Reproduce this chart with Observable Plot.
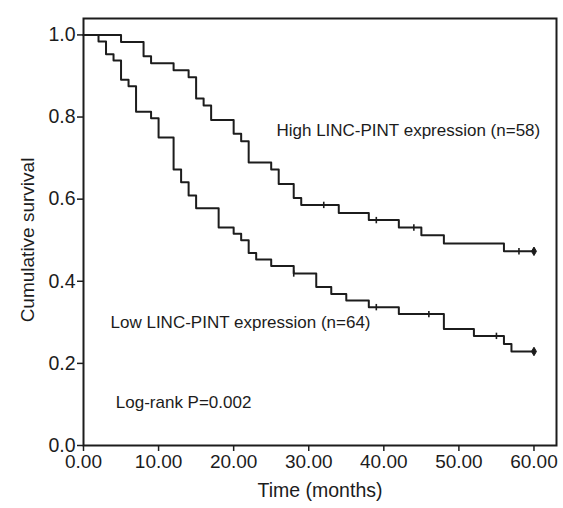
<!DOCTYPE html>
<html>
<head>
<meta charset="utf-8">
<script src="https://cdn.jsdelivr.net/npm/d3@7"></script>
<script src="https://cdn.jsdelivr.net/npm/@observablehq/plot@0.6"></script>
<style>
  html, body { margin: 0; padding: 0; background: #fff; }
  #chart svg { display: block; }
</style>
</head>
<body>
<div id="chart"></div>
<script>
// ---- data ----
const highTime = [0, 5, 8, 9, 12, 14, 15, 16, 17, 20, 21, 22, 25, 26, 28, 29, 34, 38, 42, 45, 48, 56, 60];
const highSurv = [1.0, 0.983, 0.948, 0.931, 0.914, 0.897, 0.845, 0.828, 0.793, 0.759, 0.741, 0.689, 0.672, 0.637, 0.603, 0.586, 0.566, 0.549, 0.531, 0.512, 0.492, 0.473, 0.473];
const highCensorTime = [32, 39, 44, 58];
const highCensorSurv = [0.586, 0.549, 0.531, 0.473];

const lowTime = [0, 2, 3, 4, 5, 6, 7, 9, 10, 12, 13, 14, 15, 18, 20, 21, 22, 23, 25, 28, 31, 33, 35, 38, 42, 48, 52, 56, 57, 60];
const lowSurv = [1.0, 0.984, 0.953, 0.938, 0.891, 0.875, 0.813, 0.797, 0.750, 0.672, 0.641, 0.609, 0.578, 0.531, 0.516, 0.500, 0.469, 0.453, 0.437, 0.419, 0.386, 0.369, 0.353, 0.337, 0.320, 0.284, 0.267, 0.247, 0.229, 0.229];
const lowCensorTime = [28, 39, 46, 55];
const lowCensorSurv = [0.419, 0.337, 0.320, 0.267];

const endTime = [60, 60];
const endSurv = [0.473, 0.229];

const xTicks = [0, 10, 20, 30, 40, 50, 60];
const yTicks = [0, 0.2, 0.4, 0.6, 0.8, 1.0];

const highLabel = "High LINC-PINT expression (n=58)";
const lowLabel = "Low LINC-PINT expression (n=64)";
const pLabel = "Log-rank P=0.002";
const xTitle = "Time (months)";
const yTitle = "Cumulative survival";

// ---- tables built from the arrays ----
const high = highTime.map((t, i) => ({t, s: highSurv[i]}));
const low = lowTime.map((t, i) => ({t, s: lowSurv[i]}));
const censors = highCensorTime.map((t, i) => ({t, s: highCensorSurv[i]}))
  .concat(lowCensorTime.map((t, i) => ({t, s: lowCensorSurv[i]})));
const ends = endTime.map((t, i) => ({t, s: endSurv[i]}));

// vertical censor tick symbol (half-length = r)
const vbar = { draw(context, size) { const r = Math.sqrt(size / Math.PI); context.moveTo(0, -r); context.lineTo(0, r); } };

const ink = "#1c1c1c";
const font = "'Liberation Sans', Arial, Helvetica, sans-serif";

const chart = Plot.plot({
  width: 563,
  height: 508,
  marginLeft: 83,
  marginRight: 7,
  marginTop: 18,
  marginBottom: 63,
  style: { fontFamily: font, fontSize: "18px", color: ink, background: "#fff" },
  x: { domain: [0, 63] },
  y: { domain: [0, 1.04] },
  marks: [
    Plot.frame({ stroke: ink, strokeWidth: 2 }),
    Plot.axisX({ ticks: xTicks, tickFormat: d3.format(".2f"), tickSize: 6, tickPadding: 3, label: null, fontSize: 19, stroke: ink, strokeWidth: 1.5 }),
    Plot.axisY({ ticks: yTicks, tickFormat: d3.format(".1f"), tickSize: 6, tickPadding: 2, label: null, fontSize: 19.5, stroke: ink, strokeWidth: 1.5 }),
    Plot.line(high, { x: "t", y: "s", curve: "step-after", stroke: ink, strokeWidth: 2 }),
    Plot.line(low, { x: "t", y: "s", curve: "step-after", stroke: ink, strokeWidth: 2 }),
    Plot.dot(censors, { x: "t", y: "s", symbol: vbar, r: 3.2, stroke: ink, strokeWidth: 1.6, fill: "none" }),
    Plot.dot(ends, { x: "t", y: "s", symbol: vbar, r: 3.2, stroke: ink, strokeWidth: 1.6, fill: "none" }),
    Plot.dot(ends, { x: "t", y: "s", symbol: "diamond", r: 2.6, fill: ink, stroke: ink, strokeWidth: 1 }),
    Plot.text([highLabel], { x: 25.7, y: 0.767, text: d => d, textAnchor: "start", fontSize: 17, fill: ink }),
    Plot.text([lowLabel], { x: 3.6, y: 0.300, text: d => d, textAnchor: "start", fontSize: 17, fill: ink }),
    Plot.text([pLabel], { x: 4.3, y: 0.105, text: d => d, textAnchor: "start", fontSize: 17, fill: ink }),
    Plot.text([xTitle], { frameAnchor: "bottom", dy: 51, text: d => d, textAnchor: "middle", fontSize: 19.5, fill: ink }),
    Plot.text([yTitle], { frameAnchor: "left", dx: -56, dy: 8, rotate: -90, text: d => d, textAnchor: "middle", fontSize: 19, fill: ink })
  ]
});
document.getElementById("chart").appendChild(chart);
</script>
</body>
</html>
